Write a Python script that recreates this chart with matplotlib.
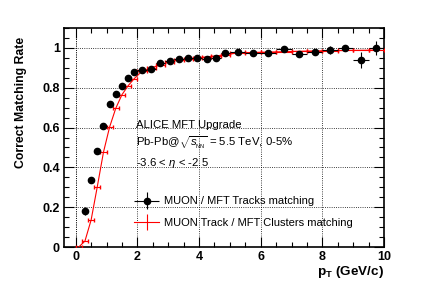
import numpy as np
import matplotlib
matplotlib.use("Agg")
import matplotlib.pyplot as plt
from matplotlib.ticker import MultipleLocator
from matplotlib.lines import Line2D
from matplotlib.legend_handler import HandlerErrorbar

plt.rcParams['font.family'] = ['Liberation Sans', 'DejaVu Sans']
plt.rcParams['mathtext.fontset'] = 'custom'
plt.rcParams['mathtext.rm'] = 'Liberation Sans'
plt.rcParams['mathtext.it'] = 'Liberation Sans:italic'
plt.rcParams['mathtext.bf'] = 'Liberation Sans:bold'

# === Data ===
# bin centres and half widths (0.2 wide below 2, 0.3 wide up to 5, 0.5 wide above)
pt_black = [0.3, 0.5, 0.7, 0.9, 1.1, 1.3, 1.5, 1.7, 1.9,
            2.15, 2.45, 2.75, 3.05, 3.35, 3.65, 3.95, 4.25, 4.55, 4.85,
            5.25, 5.75, 6.25, 6.75, 7.25, 7.75, 8.25, 8.75, 9.25, 9.75]
dpt_black = [0.1] * 9 + [0.15] * 10 + [0.25] * 10
rate_black = [0.18, 0.337, 0.48, 0.61, 0.72, 0.77, 0.81, 0.85, 0.88,
              0.891, 0.895, 0.923, 0.932, 0.945, 0.951, 0.951, 0.946, 0.951, 0.972,
              0.978, 0.973, 0.975, 0.993, 0.968, 0.98, 0.988, 0.998, 0.938, 0.998]
err_black = [0.02, 0.012, 0.01, 0.009, 0.008, 0.007, 0.007, 0.006, 0.006,
             0.006, 0.006, 0.005, 0.005, 0.005, 0.005, 0.006, 0.006, 0.006, 0.006,
             0.006, 0.007, 0.008, 0.009, 0.014, 0.015, 0.02, 0.015, 0.04, 0.035]

pt_red = [0.1, 0.3, 0.5, 0.7, 0.9, 1.1, 1.3, 1.5, 1.7, 1.9,
          2.15, 2.45, 2.75, 3.05, 3.35, 3.65, 3.95, 4.25, 4.55, 4.85,
          5.25, 5.75, 6.25, 6.75, 7.25, 7.75, 8.25, 8.75, 9.25, 9.75]
dpt_red = [0.1] * 10 + [0.15] * 10 + [0.25] * 10
rate_red = [0.0, 0.03, 0.136, 0.303, 0.476, 0.603, 0.697, 0.765, 0.81, 0.846,
            0.883, 0.90, 0.915, 0.93, 0.94, 0.945, 0.95, 0.955, 0.96, 0.965,
            0.975, 0.977, 0.979, 0.981, 0.983, 0.985, 0.986, 0.987, 0.988, 0.989]

# === Figure ===
fig = plt.figure(figsize=(4.28, 2.91), dpi=100)
ax = fig.add_axes([64 / 428, 44 / 291, 320 / 428, 219 / 291])

ax.plot(pt_red, rate_red, color='red', lw=0.8, zorder=3)
ax.errorbar(pt_red, rate_red, xerr=dpt_red, fmt='none', ecolor='red',
            elinewidth=0.8, capsize=1.5, zorder=3)
h1 = ax.errorbar(pt_black, rate_black, xerr=dpt_black, yerr=err_black, fmt='o',
                 color='black', ms=4.5, elinewidth=0.8, capsize=0, zorder=4)

ax.set_xlim(-0.38, 10)
ax.set_ylim(0, 1.1)

ax.xaxis.set_minor_locator(MultipleLocator(0.5))
ax.yaxis.set_minor_locator(MultipleLocator(0.05))
ax.tick_params(which='both', direction='in', top=True, right=True, width=0.8)
ax.tick_params(which='major', length=7, labelsize=9, pad=3)
ax.tick_params(which='minor', length=3.5)
ax.set_yticks([0, 0.2, 0.4, 0.6, 0.8, 1.0])
ax.set_yticklabels(['0', '0.2', '0.4', '0.6', '0.8', '1'], fontweight='bold')
ax.set_xticks([0, 2, 4, 6, 8, 10])
ax.set_xticklabels(['0', '2', '4', '6', '8', '10'], fontweight='bold')
for s in ax.spines.values():
    s.set_linewidth(1.2)

ax.grid(True, which='major', ls=':', color='black', lw=0.6)
ax.axvline(0, ls=':', color='black', lw=0.6)

# === Labels ===
fig.text(21 / 428, 1 - 37 / 291, 'Correct Matching Rate', rotation=90,
         ha='center', va='top', fontsize=8.8, fontweight='bold')
fig.text(384 / 428, 1 - 272 / 291, r'$\mathbf{p}_{\mathbf{T}}$ (GeV/c)',
         ha='right', va='center', fontsize=9.7, fontweight='bold')

fig.text(136 / 428, 1 - 125 / 291, 'ALICE MFT Upgrade', ha='left',
         va='center', fontsize=8.2)
fig.text(136 / 428, 1 - 143 / 291,
         r'Pb-Pb@$\sqrt{s_{_{\mathrm{NN}}}}$ = 5.5 TeV, 0-5%', ha='left',
         va='center', fontsize=8.2)
fig.text(136 / 428, 1 - 163 / 291, r'-3.6 < $\eta$ < -2.5', ha='left',
         va='center', fontsize=8.2)

# === Legend ===
h2 = Line2D([], [], color='red', lw=0.8, marker='|', ms=12, mew=0.8)
leg = ax.legend([h1, h2], ['MUON / MFT Tracks matching',
                           'MUON Track / MFT Clusters matching'],
                loc='upper left', bbox_to_anchor=((130 - 64) / 320, 1 - (192 - 28) / 219),
                frameon=False, fontsize=8, handlelength=2.2, labelspacing=1.0,
                handletextpad=0.5, borderaxespad=0,
                handler_map={h1: HandlerErrorbar(xerr_size=1.1, yerr_size=0.75)})

fig.savefig('out.png', dpi=100)
